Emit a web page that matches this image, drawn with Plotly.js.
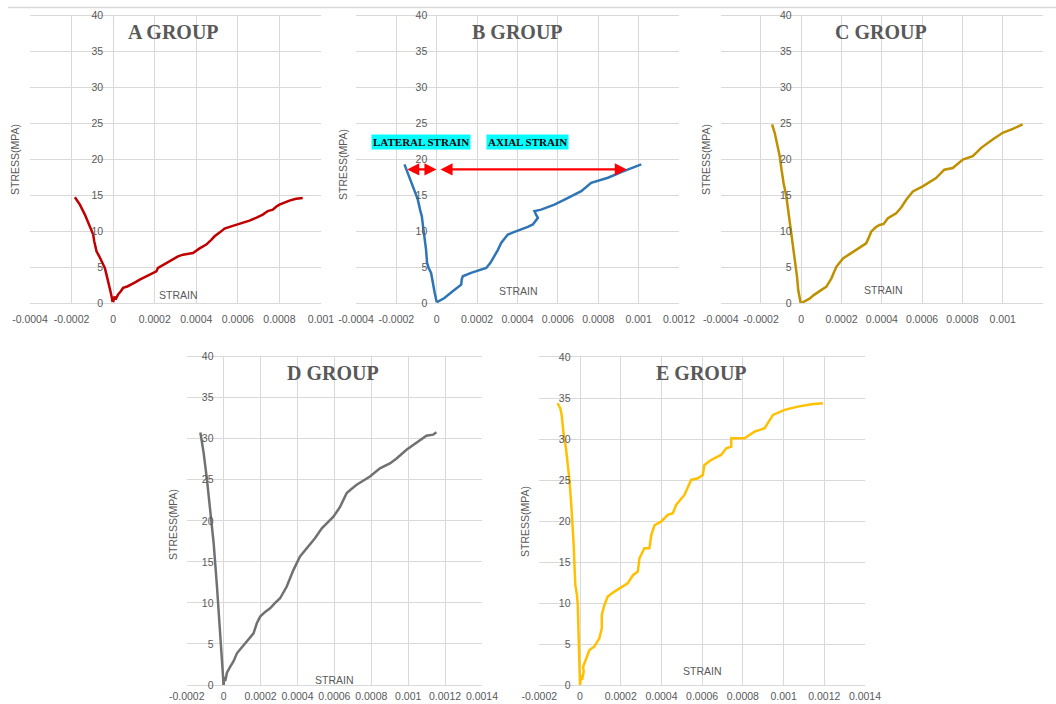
<!DOCTYPE html>
<html><head><meta charset="utf-8">
<script src="https://cdn.plot.ly/plotly-3.0.1.min.js"></script>
<style>html,body{margin:0;padding:0;background:#fff}#chart{width:1056px;height:704px}</style>
</head><body><div id="chart"></div>
<script>
// ---------- tick labels ----------
const yTickVals = [0,5,10,15,20,25,30,35,40];
const yTickText = ["0","5","10","15","20","25","30","35","40"];
const xTickValsA = [-0.0004,-0.0002,0,0.0002,0.0004,0.0006,0.0008,0.001];
const xTickTextA = ["-0.0004","-0.0002","0","0.0002","0.0004","0.0006","0.0008","0.001"];
const xTickValsBC = [-0.0004,-0.0002,0,0.0002,0.0004,0.0006,0.0008,0.001,0.0012];
const xTickTextBC = ["-0.0004","-0.0002","0","0.0002","0.0004","0.0006","0.0008","0.001","0.0012"];
const xTickValsDE = [-0.0002,0,0.0002,0.0004,0.0006,0.0008,0.001,0.0012,0.0014];
const xTickTextDE = ["-0.0002","0","0.0002","0.0004","0.0006","0.0008","0.001","0.0012","0.0014"];
const groupTitles = ["A GROUP","B GROUP","C GROUP","D GROUP","E GROUP"];
const yAxisTitle = "STRESS(MPA)";
const xAxisTitle = "STRAIN";
const lateralLabel = "LATERAL STRAIN";
const axialLabel = "AXIAL STRAIN";

// ---------- A group ----------
const aLatStrain = [-0.000184,-0.00016,-0.000136,-0.000115,-0.000101,-0.000096,-0.000091,-0.00008,-0.000067,-0.000056,-0.00004,-0.000032,-0.000019,-0.000013,-0.000006,-0.000003];
const aLatStress = [14.72,13.7,12.31,10.91,9.99,9.52,8.59,7.2,6.5,5.8,4.88,3.95,2.55,1.63,0.7,0.14];
const aAxStrain = [0,0.000006,0.000012,0.000024,0.000036,0.000048,0.000068,0.000088,0.000108,0.000128,0.00016,0.000184,0.000208,0.000216,0.00024,0.000264,0.000288,0.000312,0.000336,0.00036,0.000384,0.000416,0.000448,0.000472,0.000488,0.000512,0.000536,0.000572,0.000608,0.000632,0.000656,0.00069,0.00072,0.000744,0.000768,0.000784,0.0008,0.000848,0.00088,0.000912];
const aAxStress = [0.1,0.9,0.5,1.2,1.6,2.1,2.3,2.55,2.9,3.25,3.72,4.0,4.41,4.9,5.3,5.7,6.18,6.5,6.73,6.9,6.97,7.6,8.13,8.8,9.29,9.8,10.36,10.7,11.0,11.2,11.47,11.9,12.31,12.8,13.0,13.4,13.7,14.26,14.5,14.63];

// ---------- B group ----------
const bLatStrain = [-0.00016,-0.000144,-0.000127,-0.000111,-0.000094,-0.000081,-0.000074,-0.000068,-0.000061,-0.000053,-0.000048,-0.00004,-0.000028,-0.00002,-0.00001,0];
const bLatStress = [19.3,18.14,16.74,15.58,14.42,12.79,12.09,10.7,9.3,7.44,5.58,4.88,4.19,2.79,1.4,0.09];
const bAxStrain = [0,0.000038,0.000079,0.0001,0.000121,0.000124,0.000129,0.00017,0.000207,0.000245,0.000266,0.000286,0.000303,0.000319,0.000352,0.000385,0.000418,0.000451,0.000476,0.000501,0.000492,0.000484,0.000517,0.00055,0.000583,0.000633,0.000675,0.000716,0.000765,0.000806,0.000848,0.000914,0.000964,0.001013];
const bAxStress = [0.1,0.7,1.63,2.1,2.56,3.3,3.72,4.19,4.5,4.88,5.6,6.51,7.4,8.37,9.53,9.9,10.23,10.6,10.93,11.86,12.3,12.79,13.0,13.3,13.7,14.4,15.0,15.58,16.74,17.1,17.44,18.23,18.8,19.3];

// ---------- C group ----------
const cLatStrain = [-0.000145,-0.000132,-0.000121,-0.000107,-0.000098,-0.000088,-0.000074,-0.000061,-0.00005,-0.000038,-0.000028,-0.000021,-0.000015,-0.000007,-0.000003];
const cLatStress = [24.86,23.69,22.29,20.43,18.56,16.7,14.83,12.03,9.7,7.37,5.5,3.64,1.77,0.37,0];
const cAxStrain = [0,0.00002,0.000041,0.000062,0.000083,0.000104,0.000124,0.000149,0.000174,0.00019,0.000207,0.00024,0.000273,0.000298,0.000322,0.000335,0.000347,0.000368,0.000388,0.000409,0.00043,0.000471,0.000496,0.000521,0.000554,0.000603,0.000636,0.000669,0.00071,0.000752,0.000802,0.000851,0.000872,0.000893,0.00095,0.001,0.00105,0.001099];
const cAxStress = [0,0.3,0.6,1.1,1.54,1.9,2.24,3.4,5.04,5.6,6.2,6.8,7.37,7.9,8.3,9.1,9.93,10.5,10.87,11.0,11.8,12.5,13.3,14.37,15.53,16.23,16.8,17.4,18.56,18.8,19.96,20.43,21.0,21.6,22.76,23.7,24.25,24.86];

// ---------- D group ----------
const dLatStrain = [-0.000126,-0.000108,-0.00009,-0.000072,-0.000054,-0.000036,-0.000018,-0.000009,0];
const dLatStress = [30.77,28.25,25.0,20.93,17.28,12.0,6.3,3.05,0];
const dAxStrain = [0,0.000004,0.000009,0.000018,0.000036,0.000054,0.000072,0.000095,0.000117,0.00014,0.000162,0.00018,0.000198,0.000225,0.000252,0.000279,0.000306,0.000342,0.000378,0.000414,0.00045,0.000495,0.000532,0.000563,0.000595,0.000631,0.000667,0.000694,0.000721,0.000793,0.000847,0.000901,0.000937,0.000991,0.001045,0.001099,0.001135,0.001153];
const dAxStress = [0,1.0,0.5,1.5,2.24,2.9,3.86,4.5,5.08,5.7,6.3,7.52,8.33,8.9,9.35,10.0,10.57,12.0,14.0,15.65,16.67,17.89,19.1,19.8,20.5,21.7,23.4,23.9,24.4,25.4,26.4,27.0,27.6,28.66,29.47,30.37,30.5,30.8];

// ---------- E group ----------
const eLatStrain = [-0.00011,-0.000097,-0.00009,-0.000082,-0.000069,-0.000061,-0.000052,-0.000044,-0.000036,-0.000031,-0.000026,-0.000023,-0.000015,-0.000011,-0.000007,-0.000003,0];
const eLatStress = [34.39,33.78,32.97,30.93,28.9,27.27,25.03,22.38,19.54,17.09,13.84,12.21,10.99,9.77,6.1,2.85,0];
const eAxStrain = [0,0.000005,0.00001,0.000018,0.000015,0.00003,0.000046,0.00007,0.000095,0.000107,0.000107,0.00012,0.000136,0.000169,0.000234,0.00026,0.000284,0.000292,0.000316,0.000341,0.00035,0.000366,0.000398,0.000431,0.000456,0.000472,0.000513,0.000546,0.000579,0.000603,0.000611,0.000644,0.000693,0.000718,0.000743,0.000743,0.000808,0.000857,0.000907,0.000948,0.001005,0.00107,0.001136,0.001193];
const eAxStress = [0,1.22,0.6,1.63,2.2,3.26,4.27,4.68,5.7,6.92,8.55,9.77,10.79,11.4,12.4,13.4,13.84,15.47,16.7,16.7,18.3,19.5,19.94,20.76,20.96,21.98,23.2,25.03,25.23,25.64,26.86,27.47,28.08,28.9,29.1,30.12,30.12,30.93,31.34,32.97,33.58,33.98,34.27,34.39];

// ---------- arrows in B (strain values at arrow ends) ----------
const arrowStress = 18.6;
const lateralArrow = [-0.000154, -0.000001];
const axialArrow = [0.000011, 0.000942];

// ---------- layout (positions) ----------
const W = 1056, H = 704;
const px = v => v / W, py = v => 1 - v / H;
const panels = [
  {lat:[aLatStrain,aLatStress], ax:[aAxStrain,aAxStress], color:'#C00000', range:[-0.0004,0.001], tv:xTickValsA, tt:xTickTextA,
   xd:[30,321], yd:[303,15.7], zeroPx:113.1, title:[173,31.5], ytitle:[15,160], strain:[178,295], so:6},
  {lat:[bLatStrain,bLatStress], ax:[bAxStrain,bAxStress], color:'#2E75B6', range:[-0.0004,0.0012], tv:xTickValsBC, tt:xTickTextBC,
   xd:[356,679], yd:[303,15.7], zeroPx:437.3, title:[517,31.5], ytitle:[343,165], strain:[518,291], so:6},
  {lat:[cLatStrain,cLatStress], ax:[cAxStrain,cAxStress], color:'#BF9000', range:[-0.0004,0.0012], tv:xTickValsBC, tt:xTickTextBC,
   xd:[720.7,1043], yd:[303,15.7], zeroPx:801.7, title:[881,31.5], ytitle:[706,160], strain:[883,290], so:6},
  {lat:[dLatStrain,dLatStress], ax:[dAxStrain,dAxStress], color:'#717171', range:[-0.0002,0.0014], tv:xTickValsDE, tt:xTickTextDE,
   xd:[186.7,482], yd:[685,356.7], zeroPx:223.5, title:[333,373], ytitle:[173,525], strain:[334,680], so:1},
  {lat:[eLatStrain,eLatStress], ax:[eAxStrain,eAxStress], color:'#FFC000', range:[-0.0002,0.0014], tv:xTickValsDE, tt:xTickTextDE,
   xd:[539.3,865], yd:[685,357.3], zeroPx:580.5, title:[701,373], ytitle:[525,522], strain:[702,671], so:1}
];

const tickFont = {family:'"Liberation Sans", Arial, sans-serif', size:10.5, color:'#595959'};
const smallFont = {family:'"Liberation Sans", Arial, sans-serif', size:10.5, color:'#595959'};
const titleFont = {family:'"Liberation Serif", "Times New Roman", serif', size:20, color:'#595959'};
const gridColor = '#D9D9D9';

const traces = [];
const layout = {
  width: W, height: H, margin:{l:0,r:0,t:0,b:0},
  paper_bgcolor:'#ffffff', plot_bgcolor:'#ffffff', showlegend:false,
  annotations: [], shapes: [
    {type:'line', xref:'paper', yref:'paper', x0:px(8), x1:1, y0:py(7.5), y1:py(7.5), line:{color:'#D9D9D9', width:1.5}}
  ]
};

panels.forEach((p, i) => {
  const n = i + 1;
  const xa = 'x' + (n === 1 ? '' : n), ya = 'y' + (n === 1 ? '' : n);
  const xk = 'xaxis' + (n === 1 ? '' : n), yk = 'yaxis' + (n === 1 ? '' : n);
  traces.push({x:p.lat[0], y:p.lat[1], xaxis:xa, yaxis:ya, type:'scatter', mode:'lines', line:{color:p.color, width:2.5}, hoverinfo:'skip'});
  traces.push({x:p.ax[0], y:p.ax[1], xaxis:xa, yaxis:ya, type:'scatter', mode:'lines', line:{color:p.color, width:2.5}, hoverinfo:'skip'});
  layout[xk] = {domain:[px(p.xd[0]), px(p.xd[1])], anchor:ya, range:p.range, tickmode:'array', tickvals:p.tv, ticktext:p.tt,
    showgrid:true, gridcolor:gridColor, gridwidth:1, zeroline:false, showline:true, mirror:true, linecolor:gridColor, linewidth:1,
    ticks:'', tickangle:0, ticklabelstandoff:p.so, tickfont:tickFont, fixedrange:true};
  layout[yk] = {domain:[py(p.yd[0]), py(p.yd[1])], anchor:'free', position:px(p.zeroPx - 10), range:[0,40], tickmode:'array', tickvals:yTickVals, ticktext:yTickText,
    showgrid:true, gridcolor:gridColor, gridwidth:1, zeroline:false, showline:false, ticks:'', tickangle:0, tickfont:tickFont, fixedrange:true};
  layout.annotations.push({xref:'paper', yref:'paper', x:px(p.title[0]), y:py(p.title[1]), text:'<b>'+groupTitles[i]+'</b>', showarrow:false, font:titleFont, xanchor:'center', yanchor:'middle'});
  layout.annotations.push({xref:'paper', yref:'paper', x:px(p.ytitle[0]), y:py(p.ytitle[1]), text:yAxisTitle, textangle:-90, showarrow:false, font:smallFont, xanchor:'center', yanchor:'middle'});
  layout.annotations.push({xref:'paper', yref:'paper', x:px(p.strain[0]), y:py(p.strain[1]), text:xAxisTitle, showarrow:false, font:smallFont, xanchor:'center', yanchor:'middle'});
});

// B group labels and arrows
const labFont = {family:'"Liberation Serif", "Times New Roman", serif', size:11, color:'#000000'};
layout.annotations.push({xref:'paper', yref:'paper', x:px(421), y:py(142), text:'<b>'+lateralLabel+'</b>', showarrow:false, font:labFont, bgcolor:'#00FFFF', borderpad:1, xanchor:'center', yanchor:'middle'});
layout.annotations.push({xref:'paper', yref:'paper', x:px(527), y:py(142), text:'<b>'+axialLabel+'</b>', showarrow:false, font:labFont, bgcolor:'#00FFFF', borderpad:1, xanchor:'center', yanchor:'middle'});
[lateralArrow, axialArrow].forEach(a => {
  layout.annotations.push({xref:'x2', yref:'y2', axref:'x2', ayref:'y2', x:a[1], y:arrowStress, ax:a[0], ay:arrowStress, text:'',
    showarrow:true, arrowhead:2, startarrowhead:2, arrowside:'end+start', arrowsize:1.1, startarrowsize:1.1, arrowwidth:2.2, arrowcolor:'#FF0000', standoff:0, startstandoff:0});
});

Plotly.newPlot('chart', traces, layout, {displayModeBar:false, staticPlot:true});
</script>
</body></html>
